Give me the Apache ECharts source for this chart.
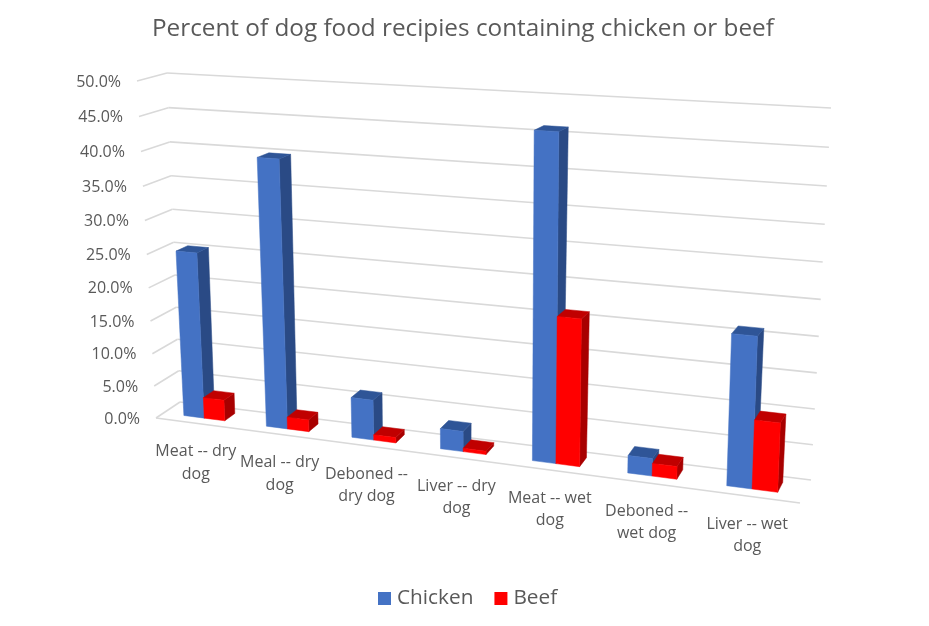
<!DOCTYPE html>
<html><head><meta charset="utf-8">
<style>html,body{margin:0;padding:0;background:#fff}#c{width:929px;height:626px}</style>
<script src="https://cdn.jsdelivr.net/npm/echarts@6/dist/echarts.min.js"></script>
</head><body><div id="c"></div>
<script>
const categories = ["Meat -- dry\ndog","Meal -- dry\ndog","Deboned --\ndry dog","Liver -- dry\ndog","Meat -- wet\ndog","Deboned --\nwet dog","Liver -- wet\ndog"];
const chicken = [25.2,39.8,6.0,3.0,46.0,2.5,21.0];
const beef = [3.2,1.8,0.8,0.5,21.0,1.8,9.6];
const yTicks = [0,5,10,15,20,25,30,35,40,45,50];
const FONT = '"Open Sans", "Noto Sans", sans-serif';
const TXT = '#595959';

// View of the 3D box: the 8 corners on the page, and its perspective strengths
const BOX = {
  flb:[156,418], flt:[137,81], blb:[180,402], blt:[167,73],
  frb:[800,503], frt:[814,119], brb:[811,480], brt:[831,108]
};
const Q = 0.88, R = 1.06;
const V_FRONT = 0.32, V_BACK = 0.76;
function mix(a,b,t){return [a[0]+(b[0]-a[0])*t, a[1]+(b[1]-a[1])*t];}
function proj(u,v,h){
  const U = u*Q/((1-u)+u*Q), H = h/(h+(1-h)*R);
  const fl = mix(BOX.flb,BOX.flt,H), fr = mix(BOX.frb,BOX.frt,H);
  const bl = mix(BOX.blb,BOX.blt,H), br = mix(BOX.brb,BOX.brt,H);
  return mix(mix(fl,fr,U), mix(bl,br,U), v);
}
function norm(params,api,pt){
  const c = params.coordSys;
  return {u:(pt[0]-c.x)/c.width, h:(c.y+c.height-pt[1])/c.height};
}
function poly(points,fill){
  return {type:'polygon',shape:{points},style:{fill,stroke:fill,lineWidth:0.5},silent:true};
}
function line(a,b){
  return {type:'line',shape:{x1:a[0],y1:a[1],x2:b[0],y2:b[1]},style:{stroke:'#D9D9D9',lineWidth:1.6},silent:true};
}
function barRender(from,to,front,side,top){
  return function(params,api){
    const i = api.value(0), val = api.value(1);
    const band = api.size([1,0])[0];
    const c = api.coord([i,val]);
    const n = norm(params,api,c);
    const w = band/params.coordSys.width;
    const u0 = n.u+from*w, u1 = n.u+to*w, h = n.h;
    const a = proj(u0,V_FRONT,0), b = proj(u1,V_FRONT,0), d = proj(u1,V_FRONT,h), e = proj(u0,V_FRONT,h);
    const bb = proj(u1,V_BACK,0), bt = proj(u1,V_BACK,h), lt = proj(u0,V_BACK,h);
    return {type:'group',children:[
      poly([b,bb,bt,d],side),
      poly([e,d,bt,lt],top),
      poly([a,b,d,e],front)
    ]};
  };
}
function wallRender(params,api){
  const val = api.value(0);
  const h = norm(params,api,api.coord([0,val])).h;
  const a = proj(0,0,h), b = proj(0,1,h), c = proj(1,1,h);
  const kids = [line(a,b),line(b,c)];
  if(val===0) kids.push(line(a,proj(1,0,0)));
  kids.push({type:'text',silent:true,style:{text:val.toFixed(1)+'%',x:a[0]-16,y:a[1]+1,align:'right',verticalAlign:'middle',fill:TXT,fontSize:16,fontFamily:FONT}});
  return {type:'group',children:kids};
}
function labelRender(params,api){
  const i = api.value(0);
  const n = norm(params,api,api.coord([i,0]));
  const p = proj(n.u,0,0);
  return {type:'text',silent:true,style:{text:categories[i],x:p[0]-1,y:p[1]+17,align:'center',verticalAlign:'top',lineHeight:22.5,fill:TXT,fontSize:16,fontFamily:FONT}};
}
const chart = echarts.init(document.getElementById('c'),null,{renderer:'canvas'});
chart.setOption({
  animation:false,
  backgroundColor:'#fff',
  title:{text:'Percent of dog food recipies containing chicken or beef',left:147,top:12,
    textStyle:{fontFamily:FONT,fontSize:24.3,fontWeight:'normal',color:TXT}},
  legend:{data:['Chicken','Beef'],bottom:12,left:373,icon:'rect',itemWidth:13,itemHeight:13,itemGap:21,
    textStyle:{fontFamily:FONT,fontSize:20.8,color:TXT,padding:[0,0,0,1]}},
  grid:{left:100,top:100,width:700,height:350},
  xAxis:{type:'category',data:categories,show:false},
  yAxis:{type:'value',min:0,max:50,interval:5,show:false},
  series:[
    {type:'custom',name:'walls',coordinateSystem:'cartesian2d',renderItem:wallRender,clip:false,silent:true,z:1,
      encode:{y:0},data:yTicks.map(v=>[v])},
    {type:'custom',name:'labels',coordinateSystem:'cartesian2d',renderItem:labelRender,clip:false,silent:true,z:1,
      encode:{x:0},data:categories.map((c,i)=>[i])},
    {type:'custom',name:'Chicken',coordinateSystem:'cartesian2d',clip:false,z:2,
      itemStyle:{color:'#4472C4'},encode:{x:0,y:1},
      renderItem:barRender(-0.25,0,'#4472C4','#2A4A85','#2F5597'),
      data:chicken.map((v,i)=>[i,v])},
    {type:'custom',name:'Beef',coordinateSystem:'cartesian2d',clip:false,z:3,
      itemStyle:{color:'#FF0000'},encode:{x:0,y:1},
      renderItem:barRender(0,0.25,'#FF0000','#A80000','#C00000'),
      data:beef.map((v,i)=>[i,v])}
  ]
});
</script></body></html>
